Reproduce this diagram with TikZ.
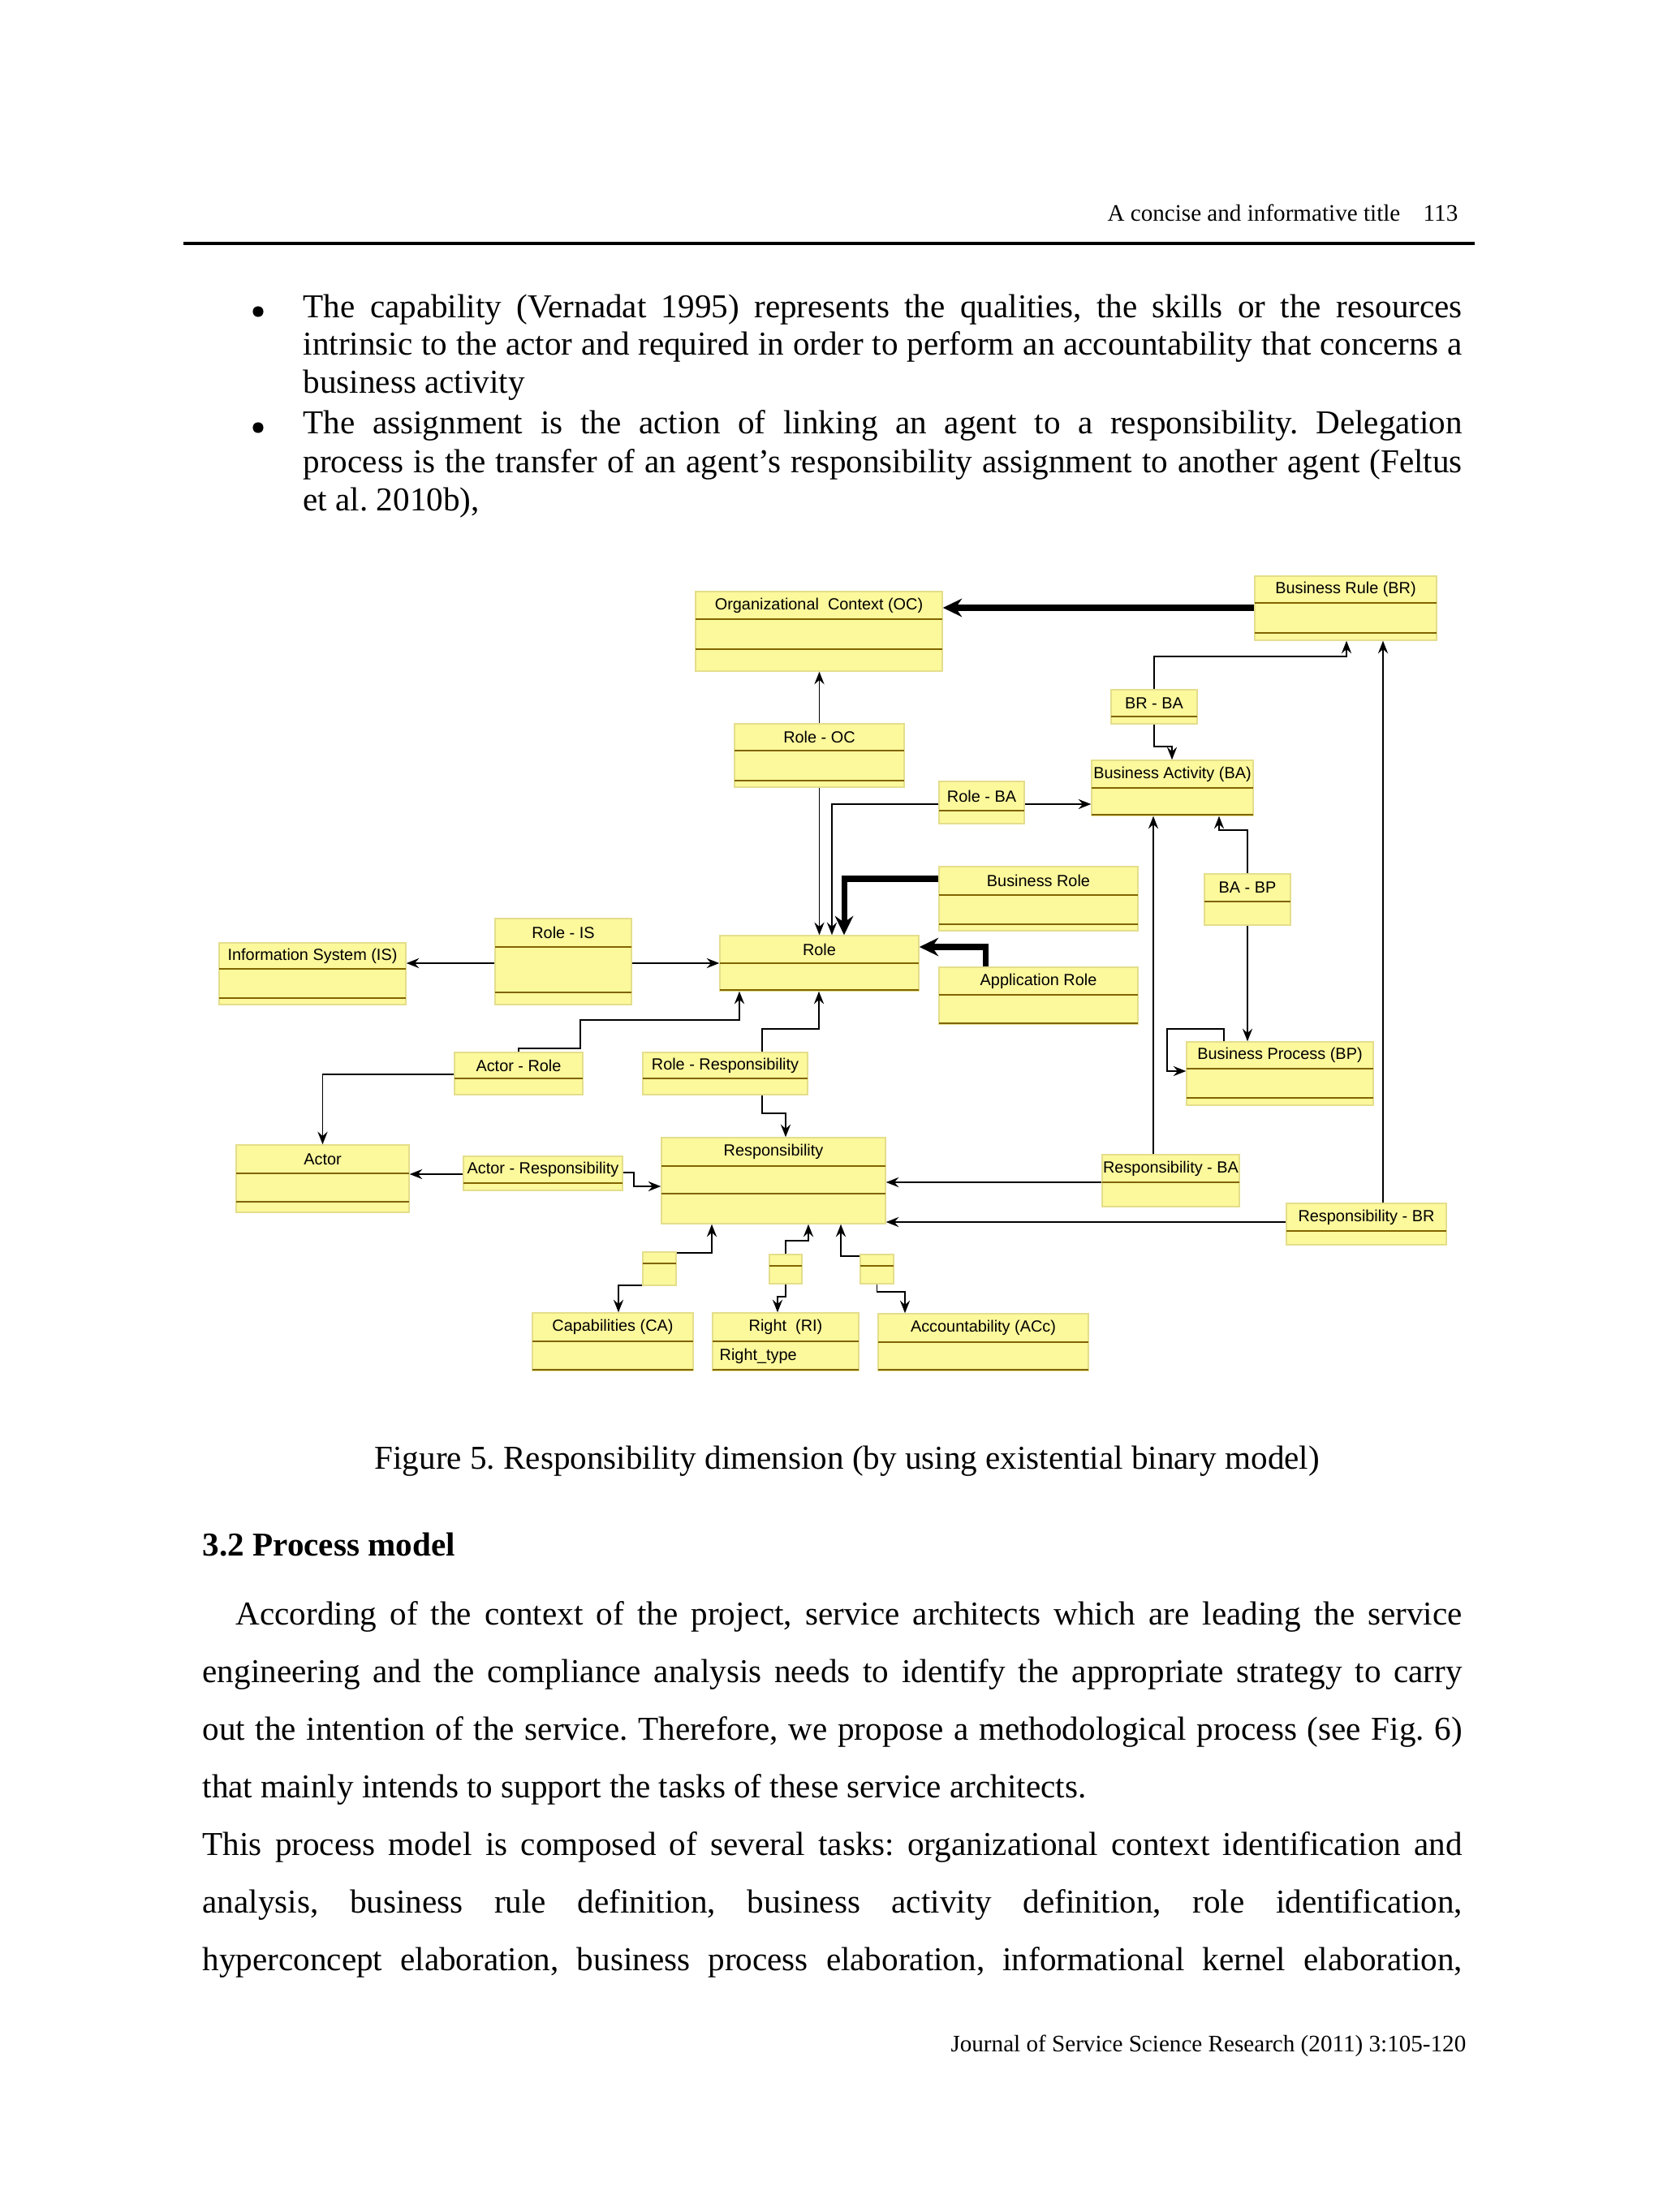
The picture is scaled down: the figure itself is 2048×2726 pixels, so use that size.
\documentclass[tikz,border=0pt]{standalone}
\usepackage{fontspec}
\setmainfont{Liberation Serif}
\newfontfamily\dfont{Liberation Sans}
\usetikzlibrary{arrows.meta,fit}
\frenchspacing
\definecolor{boxfill}{RGB}{252,248,156}
\definecolor{boxedge}{RGB}{228,222,140}
\definecolor{sepcol}{RGB}{128,100,0}
\tikzset{
  ubox/.style={draw=boxedge, fill=boxfill, inner sep=0pt, line width=0.15mm},
  usep/.style={draw=sepcol, line width=0.25mm},
  utitle/.style={font=\dfont\fontsize{5.8pt}{6.5pt}\selectfont, inner sep=0pt},
  arr/.style={draw=black, line width=0.2mm, -{Stealth[length=1.6mm,width=1.25mm,inset=0.55mm]}},
  tarr/.style={draw=black, line width=0.72mm, line join=miter, -{Stealth[length=2.4mm,width=2.3mm,inset=0.8mm]}},
  txt/.style={anchor=base west, inner sep=0pt, font=\fontsize{12pt}{13.8pt}\selectfont},
  smalltxt/.style={inner sep=0pt, font=\fontsize{8.5pt}{10pt}\selectfont},
  bull/.style={circle, fill=black, inner sep=0pt, minimum size=1.35mm},
}
\newcommand{\ubox}[8]{%
  \node[ubox, fit={(#2,#3) (#4,#5)}] (#1) {};
  \foreach \s in {#6,#7} {\draw[usep] (#2,\s) -- (#4,\s);}
  \node[utitle] (#1-t) at ({(#2+#4)/2},{(#3+#6)/2}) {#8};
}
\begin{document}
\begin{tikzpicture}[x=0.1025390625mm,y=-0.1025390625mm]
\useasboundingbox (0,0) rectangle (2048,2726);
\fill[white] (0,0) rectangle (2048,2726);

% header
\node[smalltxt, anchor=base east] (hdr) at (1726,273) {A concise and informative title};
\node[smalltxt, anchor=base east] (pgno) at (1797,273) {113};
\draw[line width=0.5mm] (226,300) -- (1817,300);

% bullets
\node[bull] (bu1) at (318,384) {};
\node[txt] (b1) at (373,392) {\makebox[146.43mm][s]{The capability (Vernadat 1995) represents the qualities, the skills or the resources}};
\node[txt] (b2) at (373,438) {\makebox[146.43mm][s]{intrinsic to the actor and required in order to perform an accountability that concerns a}};
\node[txt] (b3) at (373,485) {business activity};
\node[bull] (bu2) at (318,527) {};
\node[txt] (b4) at (373,535) {\makebox[146.43mm][s]{The assignment is the action of linking an agent to a responsibility. Delegation}};
\node[txt] (b5) at (373,583) {\makebox[146.43mm][s]{process is the transfer of an agent’s responsibility assignment to another agent (Feltus}};
\node[txt] (b6) at (373,630) {et al. 2010b),};

% diagram boxes
\ubox{oc}{857}{729}{1161}{827}{763}{800}{Organizational\ \ Context (OC)}
\ubox{br}{1546}{710}{1770}{789}{743}{780}{Business Rule (BR)}
\ubox{brba}{1369}{850}{1475}{892}{883}{883}{BR - BA}
\ubox{ba}{1345}{937}{1544}{1005}{971}{1004}{Business Activity (BA)}
\ubox{roleoc}{905}{892}{1114}{970}{925}{962}{Role - OC}
\ubox{roleba}{1157}{963}{1262}{1015}{999}{999}{Role - BA}
\ubox{brole}{1157}{1068}{1402}{1147}{1103}{1139}{Business Role}
\ubox{babp}{1484}{1077}{1590}{1140}{1111}{1111}{BA - BP}
\ubox{approle}{1157}{1192}{1402}{1262}{1226}{1261}{Application Role}
\ubox{bp}{1462}{1284}{1692}{1362}{1317}{1353}{Business Process (BP)}
\ubox{is}{270}{1162}{500}{1238}{1194}{1230}{Information System (IS)}
\ubox{roleis}{610}{1132}{778}{1238}{1167}{1223}{Role - IS}
\ubox{role}{887}{1153}{1132}{1221}{1187}{1220}{Role}
\ubox{actorrole}{560}{1297}{718}{1349}{1329}{1329}{Actor - Role}
\ubox{roleresp}{792}{1297}{995}{1349}{1329}{1329}{Role - Responsibility}
\ubox{actor}{291}{1411}{504}{1494}{1446}{1481}{Actor}
\ubox{actorresp}{571}{1425}{767}{1467}{1458}{1458}{Actor - Responsibility}
\ubox{resp}{815}{1402}{1091}{1508}{1437}{1471}{Responsibility}
\ubox{respba}{1358}{1423}{1527}{1487}{1457}{1457}{Responsibility - BA}
\ubox{respbr}{1585}{1483}{1782}{1534}{1517}{1517}{Responsibility - BR}
\ubox{sa}{792}{1543}{833}{1584}{1557}{1557}{}
\ubox{sb}{948}{1546}{988}{1582}{1560}{1560}{}
\ubox{sc}{1060}{1546}{1101}{1582}{1560}{1560}{}
\ubox{ca}{656}{1618}{854}{1689}{1653}{1688}{Capabilities (CA)}
\ubox{ri}{878}{1618}{1058}{1689}{1653}{1688}{Right\ \ (RI)}
\ubox{acc}{1082}{1619}{1341}{1689}{1654}{1688}{Accountability (ACc)}
\node[utitle, anchor=west] (ritype) at (886,1671) {Right\_type};

% connectors
\draw[tarr] (br.west |- 0,749) -- (oc.east |- 0,749);
\draw[arr] (brba.north) |- (1659,809) -- (br.south -| 1659,0);
\draw[arr] (brba.south) |- (1444,920) -- (ba.north -| 1444,0);
\draw[arr] (roleoc.north) -- (oc.south -| roleoc.north);
\draw[arr] (roleoc.south) -- (role.north -| roleoc.south);
\draw[arr] (roleba.west |- 0,991) -| (role.north -| 1025,0);
\draw[arr] (roleba.east |- 0,991) -- (ba.west |- 0,991);
\draw[tarr] (brole.west |- 0,1083) -| (role.north -| 1040,0);
\draw[tarr] (approle.north -| 1214,0) |- (role.east |- 0,1167);
\draw[arr] (babp.north) |- (1502,1023) -- (ba.south -| 1502,0);
\draw[arr] (babp.south) -- (bp.north -| babp.south);
\draw[arr] (bp.north -| 1508,0) |- (1438,1268) |- (bp.west |- 0,1320);
\draw[arr] (respba.north -| 1421,0) -- (ba.south -| 1421,0);
\draw[arr] (respba.west |- 0,1457) -- (resp.east |- 0,1457);
\draw[arr] (respbr.north -| 1704,0) -- (br.south -| 1704,0);
\draw[arr] (respbr.west |- 0,1506) -- (resp.east |- 0,1506);
\draw[arr] (roleis.west |- 0,1187) -- (is.east |- 0,1187);
\draw[arr] (roleis.east |- 0,1187) -- (role.west |- 0,1187);
\draw[arr] (actorrole.north -| 639,0) |- (715,1292) |- (911,1257) -- (role.south -| 911,0);
\draw[arr] (actorrole.west |- 0,1324) -| (actor.north);
\draw[arr] (roleresp.north -| 939,0) |- (1009,1268) -- (role.south -| 1009,0);
\draw[arr] (roleresp.south -| 939,0) |- (968,1372) -- (resp.north -| 968,0);
\draw[arr] (actorresp.west |- 0,1447) -- (actor.east |- 0,1447);
\draw[arr] (actorresp.east |- 0,1445) -| (781,1462) -- (resp.west |- 0,1462);
\draw[arr] (sa.east |- 0,1544) -| (resp.south -| 877,0);
\draw[arr] (sa.west |- 0,1584) -| (ca.north -| 762,0);
\draw[arr] (sb.north) |- (996,1529) -- (resp.south -| 996,0);
\draw[arr] (sb.south) |- (958,1598) -- (ri.north -| 958,0);
\draw[arr] (sc.west |- 0,1548) -| (resp.south -| 1036,0);
\draw[arr] (sc.south) |- (1115,1592) -- (acc.north -| 1115,0);

% caption and following text
\node[txt] (cap) at (461,1810) {Figure 5. Responsibility dimension (by using existential binary model)};
\node[txt, font=\fontsize{12pt}{13.8pt}\selectfont\bfseries] (sec) at (249,1917) {3.2 Process model};
\node[txt] (p1) at (290,2002) {\makebox[154.94mm][s]{According of the context of the project, service architects which are leading the service}};
\node[txt] (p2) at (249,2073) {\makebox[159.14mm][s]{engineering and the compliance analysis needs to identify the appropriate strategy to carry}};
\node[txt] (p3) at (249,2144) {\makebox[159.14mm][s]{out the intention of the service. Therefore, we propose a methodological process (see Fig. 6)}};
\node[txt] (p4) at (249,2215) {that mainly intends to support the tasks of these service architects.};
\node[txt] (p5) at (249,2286) {\makebox[159.14mm][s]{This process model is composed of several tasks: organizational context identification and}};
\node[txt] (p6) at (249,2357) {\makebox[159.14mm][s]{analysis, business rule definition, business activity definition, role identification,}};
\node[txt] (p7) at (249,2428) {\makebox[159.14mm][s]{hyperconcept elaboration, business process elaboration, informational kernel elaboration,}};

% footer
\node[smalltxt, anchor=base east] (foot) at (1807,2528) {Journal of Service Science Research (2011) 3:105-120};
\end{tikzpicture}
\end{document}
